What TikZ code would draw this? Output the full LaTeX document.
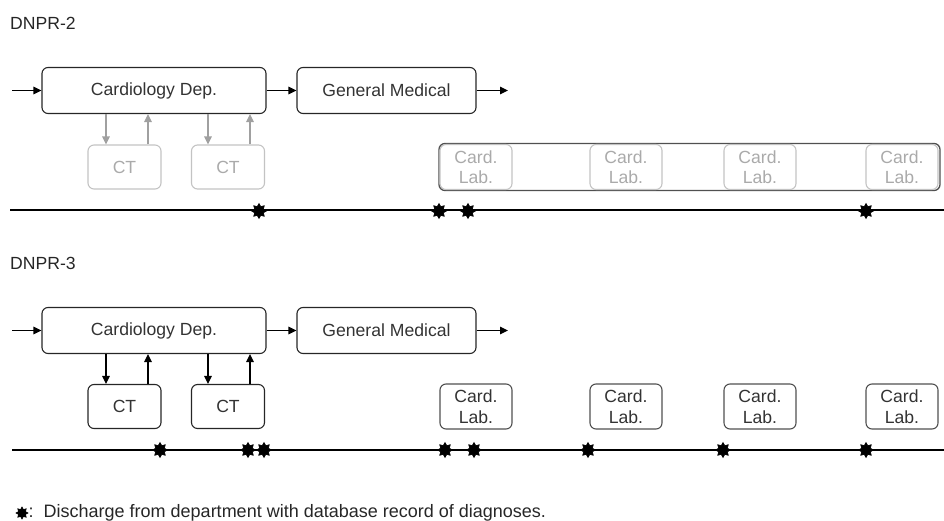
\documentclass[tikz,border=0pt]{standalone}
\usepackage{fontspec}
\setmainfont{Liberation Sans}
\usetikzlibrary{arrows.meta,shapes.geometric}
\definecolor{ltgray}{RGB}{195,195,195}
\definecolor{txgray}{RGB}{170,170,170}
\definecolor{argray}{RGB}{160,160,160}
\definecolor{dkgray}{RGB}{80,80,80}
\tikzset{
  box/.style={draw=black!85, rounded corners=6pt, line width=1.1pt, minimum height=46pt, inner sep=0pt, align=center, font=\fontsize{17.6}{20.5}\selectfont, text=black!80},
  gbox/.style={box, draw=ltgray, text=txgray},
  arr/.style={-{Triangle[length=8pt,width=7.5pt]}, line width=1.2pt},
  garr/.style={arr, draw=argray, -{Triangle[length=8pt,width=7.5pt,fill=argray]}},
  evt/.style={star, star points=8, star point ratio=1.6, fill=black, draw=black, line width=0.6pt, minimum size=15pt, inner sep=0pt},
  levt/.style={evt, minimum size=12pt},
  lbl/.style={font=\fontsize{17.6}{20.5}\selectfont, text=black!85, inner sep=0pt},
  tline/.style={line width=1.2pt}
}
\begin{document}
\begin{tikzpicture}[x=1pt,y=-1pt]
\useasboundingbox (0,0) rectangle (944,521);
% ---------- DNPR-2 ----------
\node[lbl, anchor=west] (h2) at (10,23) {DNPR-2};
\coordinate (in2) at (12,90.5);
\node[box, minimum width=224pt] (card2) at (154,90.5) {Cardiology Dep.};
\node[box, minimum width=179pt] (gen2) at (386.5,90.5) {General Medical};
\coordinate (out2) at (508,90.5);
\draw[arr] (in2) -- (card2.west);
\draw[arr] (card2.east) -- (gen2.west);
\draw[arr] (gen2.east) -- (out2);
\node[gbox, minimum width=73pt, minimum height=44pt] (ct2a) at (124.5,167) {CT};
\node[gbox, minimum width=73pt, minimum height=44pt] (ct2b) at (228,167) {CT};
\draw[garr] ([xshift=-18.5pt]ct2a.north |- card2.south) -- ([xshift=-18.5pt]ct2a.north);
\draw[garr] ([xshift=23.5pt]ct2a.north) -- ([xshift=23.5pt]ct2a.north |- card2.south);
\draw[garr] ([xshift=-20pt]ct2b.north |- card2.south) -- ([xshift=-20pt]ct2b.north);
\draw[garr] ([xshift=22pt]ct2b.north) -- ([xshift=22pt]ct2b.north |- card2.south);
\node[box, draw=dkgray, line width=1.3pt, minimum width=501pt, minimum height=47pt] (big2) at (689.5,167) {};
\node[gbox, minimum width=72pt, minimum height=45pt] (lab2a) at (476,167) {Card.\\Lab.};
\node[gbox, minimum width=72pt, minimum height=45pt] (lab2b) at (626,167) {Card.\\Lab.};
\node[gbox, minimum width=72pt, minimum height=45pt] (lab2c) at (760,167) {Card.\\Lab.};
\node[gbox, minimum width=72pt, minimum height=45pt] (lab2d) at (902,167) {Card.\\Lab.};
\coordinate (t2s) at (10,210);
\coordinate (t2e) at (944,210);
\draw[tline] (t2s) -- (t2e);
\node[evt] (e2a) at (259,211) {};
\node[evt] (e2b) at (439,211) {};
\node[evt] (e2c) at (468,211) {};
\node[evt] (e2d) at (866,211) {};
% ---------- DNPR-3 ----------
\node[lbl, anchor=west] (h3) at (10,263) {DNPR-3};
\coordinate (in3) at (12,330.5);
\node[box, minimum width=224pt] (card3) at (154,330.5) {Cardiology Dep.};
\node[box, minimum width=179pt] (gen3) at (386.5,330.5) {General Medical};
\coordinate (out3) at (508,330.5);
\draw[arr] (in3) -- (card3.west);
\draw[arr] (card3.east) -- (gen3.west);
\draw[arr] (gen3.east) -- (out3);
\node[box, minimum width=73pt, minimum height=44pt] (ct3a) at (124.5,406.5) {CT};
\node[box, minimum width=73pt, minimum height=44pt] (ct3b) at (228,406.5) {CT};
\draw[arr] ([xshift=-18.5pt]ct3a.north |- card3.south) -- ([xshift=-18.5pt]ct3a.north);
\draw[arr] ([xshift=23.5pt]ct3a.north) -- ([xshift=23.5pt]ct3a.north |- card3.south);
\draw[arr] ([xshift=-20pt]ct3b.north |- card3.south) -- ([xshift=-20pt]ct3b.north);
\draw[arr] ([xshift=22pt]ct3b.north) -- ([xshift=22pt]ct3b.north |- card3.south);
\node[box, draw=dkgray, minimum width=72pt, minimum height=45pt] (lab3a) at (476,406.5) {Card.\\Lab.};
\node[box, draw=dkgray, minimum width=72pt, minimum height=45pt] (lab3b) at (626,406.5) {Card.\\Lab.};
\node[box, draw=dkgray, minimum width=72pt, minimum height=45pt] (lab3c) at (760,406.5) {Card.\\Lab.};
\node[box, draw=dkgray, minimum width=72pt, minimum height=45pt] (lab3d) at (902,406.5) {Card.\\Lab.};
\coordinate (t3s) at (12,450);
\coordinate (t3e) at (944,450);
\draw[tline] (t3s) -- (t3e);
\node[evt] (e3a) at (160,450) {};
\node[evt] (e3b) at (248,450) {};
\node[evt] (e3c) at (264,450) {};
\node[evt] (e3d) at (445,450) {};
\node[evt] (e3e) at (474,450) {};
\node[evt] (e3f) at (588,450) {};
\node[evt] (e3g) at (723,450) {};
\node[evt] (e3h) at (866,450) {};
% ---------- legend ----------
\node[levt] (leg) at (22,513) {};
\node[lbl, anchor=west, font=\fontsize{18}{21}\selectfont] (legtxt) at (28.5,513) {:\hspace{10pt}Discharge from department with database record of diagnoses.};
\end{tikzpicture}
\end{document}
